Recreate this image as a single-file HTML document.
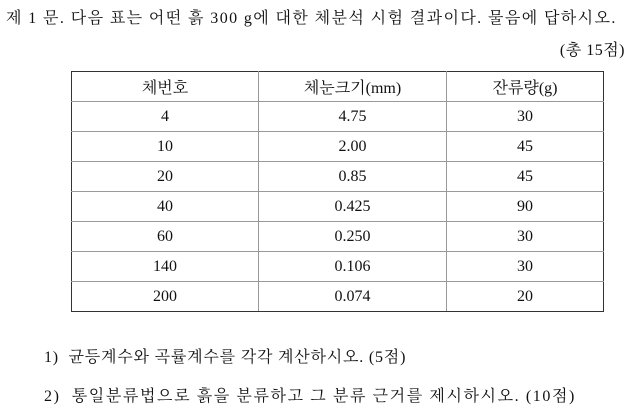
<!DOCTYPE html>
<html><head><meta charset="utf-8"><style>
body{margin:0;width:633px;height:407px;background:#fff;overflow:hidden;font-family:"Liberation Serif","Noto Serif CJK KR","Noto Serif CJK SC",serif;color:#111;font-size:16px}
.t{position:absolute;white-space:nowrap}
table{position:absolute;left:71px;top:71px;border-collapse:collapse;width:533px}
td{border:1px solid #999;height:29px;padding:0;text-align:center;font-size:16px}
tr:first-child td{border-top:1.5px solid #333}
tr:last-child td{border-bottom:1.5px solid #333}
td:first-child{border-left:1.5px solid #333}
td:last-child{border-right:1.5px solid #333}
</style></head><body>
<div class="t" style="left:6px;top:5px;letter-spacing:1.4px">제 1 문. 다음 표는 어떤 흙 300 g에 대한 체분석 시험 결과이다. 물음에 답하시오.</div>
<div class="t" style="right:8px;top:37px;letter-spacing:0.5px">(총 15점)</div>
<table>
<tr><td style="width:186px">체번호</td><td style="width:187px">체눈크기(mm)</td><td>잔류량(g)</td></tr>
<tr><td>4</td><td>4.75</td><td>30</td></tr>
<tr><td>10</td><td>2.00</td><td>45</td></tr>
<tr><td>20</td><td>0.85</td><td>45</td></tr>
<tr><td>40</td><td>0.425</td><td>90</td></tr>
<tr><td>60</td><td>0.250</td><td>30</td></tr>
<tr><td>140</td><td>0.106</td><td>30</td></tr>
<tr><td>200</td><td>0.074</td><td>20</td></tr>
</table>
<div class="t" style="left:44px;top:344px;letter-spacing:0.8px">1)&nbsp; 균등계수와 곡률계수를 각각 계산하시오. (5점)</div>
<div class="t" style="left:44px;top:383px;letter-spacing:1.6px">2)&nbsp; 통일분류법으로 흙을 분류하고 그 분류 근거를 제시하시오. (10점)</div>
</body></html>
